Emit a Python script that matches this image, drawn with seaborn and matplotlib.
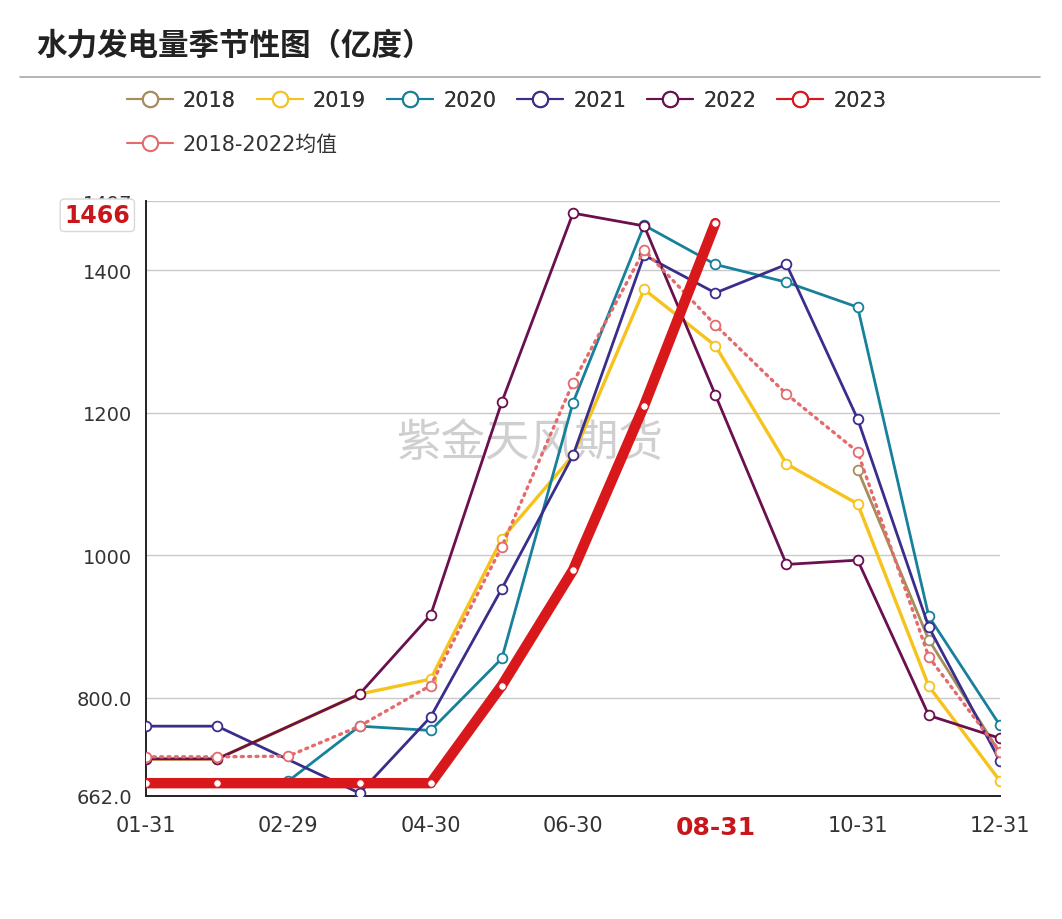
import numpy as np
import pandas as pd
import matplotlib
matplotlib.use("Agg")
import matplotlib.pyplot as plt
import seaborn as sns
from matplotlib.lines import Line2D
import matplotlib.transforms as mtransforms

# ---------------- data ----------------
categories = ["01-31", "02-28", "02-29", "03-31", "04-30", "05-31", "06-30",
              "07-31", "08-31", "09-30", "10-31", "11-30", "12-31"]
tick_labels = ["01-31", "02-29", "04-30", "06-30", "08-31", "10-31", "12-31"]
nan = np.nan
y2018 = [nan, nan, nan, nan, nan, nan, nan, nan, nan, nan, 1120, 881, 722]
y2019 = [714, 714, nan, 805, 826, 1023, 1140, 1373, 1294, 1128, 1072, 816, 683]
y2020 = [nan, nan, 683, 760, 754, 855, 1214, 1463, 1408, 1383, 1348, 914, 761]
y2021 = [760, 760, nan, 666, 773, 953, 1140, 1421, 1368, 1408, 1191, 899, 711]
y2022 = [714, 714, nan, 805, 916, 1215, 1480, 1462, 1225, 987, 993, 775, 743]
y2023 = [680, 680, nan, 680, 680, 817, 979, 1210, 1466, nan, nan, nan, nan]
yavg = [717, 717, 718, 760, 817, 1012, 1242, 1428, 1323, 1226, 1145, 857, 724]
series_names = ["2018", "2019", "2020", "2021", "2022", "2023", "2018-2022均值"]
y_min, y_max = 662, 1497
y_ticks = [662, 800, 1000, 1200, 1400, 1497]
y_tick_labels = ["662.0", "800.0", "1000", "1200", "1400", "1497"]
last_value_label = "1466"

# ---------------- style ----------------
sns.set_style("white")
plt.rcParams["font.family"] = ["Noto Sans CJK SC", "DejaVu Sans"]

colors = {
    "2018": "#a58d5c",
    "2019": "#f6c31c",
    "2020": "#17809b",
    "2021": "#3a2e8c",
    "2022": "#6b104f",
    "2023": "#d9181c",
    "2018-2022均值": "#e46a6c",
}

fig = plt.figure(figsize=(10.62, 9.2), dpi=100)
ax = fig.add_axes([146 / 1062, 1 - 797 / 920, (1000 - 146) / 1062, (797 - 202) / 920])

xpos = np.arange(len(categories))
data_map = {"2018": y2018, "2019": y2019, "2020": y2020, "2021": y2021,
            "2022": y2022, "2018-2022均值": yavg, "2023": y2023}
order = ["2018", "2019", "2020", "2021", "2022", "2018-2022均值", "2023"]
for name in order:
    df = pd.DataFrame({"x": xpos, "y": data_map[name]}).dropna()
    c = colors[name]
    if name == "2023":
        kw = dict(linewidth=7.5, marker="o", markersize=5.5, markerfacecolor="white",
                  markeredgecolor=c, markeredgewidth=0.8, zorder=6)
    elif name == "2018-2022均值":
        kw = dict(linewidth=2.4, linestyle=(0, (0.6, 1.6)), marker="o", markersize=7,
                  markerfacecolor="white", markeredgecolor=c, markeredgewidth=1.3,
                  zorder=5, dash_capstyle="round")
    elif name == "2019":
        kw = dict(linewidth=2.4, marker="o", markersize=7, markerfacecolor="white",
                  markeredgecolor=c, markeredgewidth=1.3, zorder=3)
    else:
        kw = dict(linewidth=2.0, marker="o", markersize=7, markerfacecolor="white",
                  markeredgecolor=c, markeredgewidth=1.3, zorder=4)
    sns.lineplot(data=df, x="x", y="y", ax=ax, color=c, legend=False, **kw)

# ---------------- axes ----------------
ax.set_xlim(0, len(categories) - 1)
ax.set_ylim(y_min, y_max)
ax.set_xlabel("")
ax.set_ylabel("")
tick_idx = [categories.index(t) for t in tick_labels]
ax.set_xticks(tick_idx)
ax.set_xticklabels(tick_labels, fontsize=15, color="#333333",
                   family=["DejaVu Sans"])
ax.set_yticks(y_ticks)
ax.set_yticklabels(y_tick_labels, fontsize=14, color="#333333",
                   family=["DejaVu Sans"])
for lab in ax.get_xticklabels():
    if lab.get_text() == "08-31":
        lab.set_color("#c8161d")
        lab.set_fontweight("bold")
        lab.set_fontsize(18)
ax.tick_params(axis="x", direction="out", length=8, width=1.3, color="#222222", pad=6)
ax.tick_params(axis="y", direction="out", length=6, width=1.3, color="#222222", pad=4)
for side in ["top", "right"]:
    ax.spines[side].set_visible(False)
for side in ["left", "bottom"]:
    ax.spines[side].set_color("#222222")
    ax.spines[side].set_linewidth(1.4)
for yv in y_ticks[1:]:
    ax.axhline(yv, color="#c9c9cc", lw=1.0, zorder=0)

# last-value label box
trans = mtransforms.blended_transform_factory(ax.transAxes, ax.transData)
ax.text(-0.057, 1477, last_value_label, transform=trans, ha="center", va="center",
        fontsize=17, fontweight="bold", color="#c8161d", zorder=20, clip_on=False,
        family=["DejaVu Sans"],
        bbox=dict(boxstyle="round,pad=0.18", fc="white", ec="#d8d8d8", lw=1.0))

# watermark
ax.text(0.4496, 0.595, "紫金天风期货", transform=ax.transAxes, ha="center", va="center",
        fontsize=32, color="#c4c4c4", alpha=0.8, zorder=1)

# ---------------- title / separator ----------------
fig.text(36 / 1062, 1 - 46 / 920, "水力发电量季节性图（亿度）", fontsize=22,
         fontweight="bold", color="#222222", va="center", ha="left")
fig.add_artist(Line2D([20 / 1062, 1040 / 1062], [1 - 78 / 920] * 2,
                      color="#a8a8a8", lw=1.2))

# ---------------- legends ----------------
def handle(name):
    return Line2D([0], [0], color=colors[name], lw=1.5, marker="o", markersize=11,
                  markerfacecolor="white", markeredgecolor=colors[name],
                  markeredgewidth=1.5)

legend_font = {"family": ["DejaVu Sans", "Noto Sans CJK SC"], "size": 15}
row1 = series_names[:6]
leg1 = fig.legend([handle(n) for n in row1], row1, loc="center left",
                  bbox_to_anchor=(108 / 1062, 1 - 101 / 920), ncol=6, frameon=False,
                  prop=legend_font, handlelength=2.2, handletextpad=0.5,
                  columnspacing=1.0, labelcolor="#333333")
leg2 = fig.legend([handle(series_names[6])], [series_names[6]], loc="center left",
                  bbox_to_anchor=(108 / 1062, 1 - 145 / 920), ncol=1, frameon=False,
                  prop=legend_font, handlelength=2.2, handletextpad=0.5,
                  labelcolor="#333333")
fig.add_artist(leg1)

fig.savefig("out.png", dpi=100, facecolor="white")
